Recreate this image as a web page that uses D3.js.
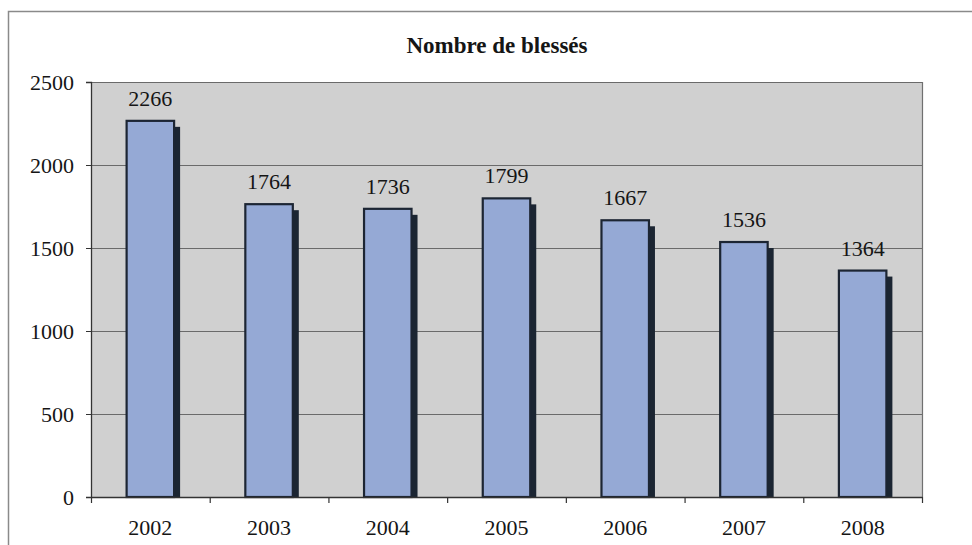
<!DOCTYPE html>
<html>
<head>
<meta charset="utf-8">
<script src="https://cdn.jsdelivr.net/npm/d3@7"></script>
<style>
  html, body { margin: 0; padding: 0; background: #ffffff; }
  svg { display: block; }
  svg text { font-family: "Liberation Serif", "Times New Roman", serif !important; fill: #151515; }
</style>
</head>
<body>
<svg id="chart" width="972" height="545"></svg>
<script>
const years = ["2002", "2003", "2004", "2005", "2006", "2007", "2008"];
const injured = [2266, 1764, 1736, 1799, 1667, 1536, 1364];
const yTicks = [0, 500, 1000, 1500, 2000, 2500];
const title = "Nombre de blessés";

const svg = d3.select("#chart");
const W = 972, H = 545;
const plot = { left: 91, right: 922, top: 82, bottom: 497 };
const FONT = '"Liberation Serif", "Times New Roman", serif';

// outer frame
svg.append("path")
  .attr("d", `M8.5,${H + 2} L8.5,11.5 L${W + 2},11.5`)
  .attr("fill", "none").attr("stroke", "#8a8a8a").attr("stroke-width", 1.5);

const x = d3.scaleBand().domain(years).range([plot.left, plot.right]).padding(0);
const y = d3.scaleLinear().domain([0, 2500]).range([plot.bottom, plot.top]);

// plot background
svg.append("rect")
  .attr("x", plot.left).attr("y", plot.top)
  .attr("width", plot.right - plot.left).attr("height", plot.bottom - plot.top)
  .attr("fill", "#d0d0d0");

// gridlines
svg.append("g").selectAll("line").data(yTicks.filter(d => d > 0)).join("line")
  .attr("x1", plot.left).attr("x2", plot.right)
  .attr("y1", d => Math.round(y(d)) + 0.5).attr("y2", d => Math.round(y(d)) + 0.5)
  .attr("stroke", "#6a6a6a").attr("stroke-width", 1.2);

// right border of plot area
svg.append("line")
  .attr("x1", plot.right + 0.5).attr("x2", plot.right + 0.5)
  .attr("y1", plot.top).attr("y2", plot.bottom)
  .attr("stroke", "#707070").attr("stroke-width", 1.2);

const bw = x.bandwidth() * 0.4;
const shadow = 6;

// shadows
svg.append("g").selectAll("rect").data(injured).join("rect")
  .attr("x", (d, i) => x(years[i]) + (x.bandwidth() - bw) / 2 + shadow)
  .attr("y", d => y(d) + shadow)
  .attr("width", bw)
  .attr("height", d => plot.bottom - y(d) - shadow)
  .attr("fill", "#1b2532");

// bars
svg.append("g").selectAll("rect").data(injured).join("rect")
  .attr("x", (d, i) => x(years[i]) + (x.bandwidth() - bw) / 2)
  .attr("y", d => y(d))
  .attr("width", bw)
  .attr("height", d => plot.bottom - y(d))
  .attr("fill", "#95a9d5")
  .attr("stroke", "#1c2533").attr("stroke-width", 2.2);

// value labels
svg.append("g").selectAll("text").data(injured).join("text")
  .attr("x", (d, i) => x(years[i]) + x.bandwidth() / 2)
  .attr("y", d => y(d) - 15)
  .attr("text-anchor", "middle")
  .style("font-family", FONT)
  .style("font-size", "22px")
  .text(d => d);

// y axis
const yAxis = svg.append("g")
  .attr("transform", `translate(${plot.left},0)`)
  .call(d3.axisLeft(y).tickValues(yTicks).tickSize(5).tickPadding(12).tickFormat(d3.format("d")));
yAxis.attr("font-family", null).attr("font-size", null);
yAxis.select(".domain").attr("stroke", "#333").attr("stroke-width", 1.3);
yAxis.selectAll(".tick line").attr("stroke", "#333");
yAxis.selectAll("text").style("font-size", "22px").style("font-family", FONT).attr("fill", "#151515");

// x axis
const xAxis = svg.append("g")
  .attr("transform", `translate(0,${plot.bottom})`)
  .call(d3.axisBottom(x).tickSize(0).tickPadding(22));
xAxis.attr("font-family", null).attr("font-size", null);
xAxis.select(".domain").attr("stroke", "#333").attr("stroke-width", 1.3);
xAxis.selectAll("text").style("font-size", "22px").style("font-family", FONT).attr("fill", "#151515");
// category boundary ticks
const bounds = years.map(d => x(d)).concat([plot.right]);
svg.append("g").selectAll("line").data(bounds).join("line")
  .attr("x1", d => d + 0.5).attr("x2", d => d + 0.5)
  .attr("y1", plot.bottom).attr("y2", plot.bottom + 6)
  .attr("stroke", "#333").attr("stroke-width", 1.2);

// title
svg.append("text")
  .attr("x", 497).attr("y", 53)
  .attr("text-anchor", "middle")
  .style("font-family", FONT)
  .style("font-size", "23px").style("font-weight", "bold")
  .text(title);
</script>
</body>
</html>
